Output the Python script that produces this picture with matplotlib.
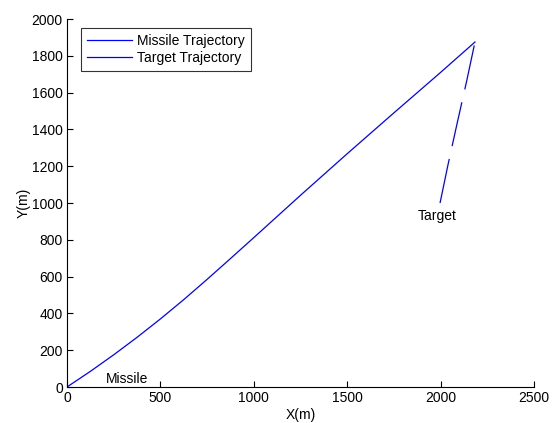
import numpy as np
import matplotlib
matplotlib.use('Agg')
import matplotlib.pyplot as plt

# values
missile_x = [0, 125, 250, 375, 500, 625, 750, 875, 1000, 1250, 1500, 1750, 2000, 2184]
missile_y = [0, 85, 175, 270, 370, 475, 585, 698, 812, 1042, 1268, 1490, 1710, 1875]

target_x = [1997, 2040, 2090, 2140, 2184]
target_y = [1000, 1210, 1440, 1665, 1875]

x_ticks = [0, 500, 1000, 1500, 2000, 2500]
y_ticks = [0, 200, 400, 600, 800, 1000, 1200, 1400, 1600, 1800, 2000]

plt.rcParams['font.family'] = ['Liberation Sans', 'DejaVu Sans']
plt.rcParams['font.size'] = 10

fig = plt.figure(figsize=(5.52, 4.23), dpi=100)
ax = fig.add_axes([0.1214, 0.0851, 0.846, 0.8699])

ax.plot(missile_x, missile_y, color='#0000ff', lw=0.9, label='Missile Trajectory')
ax.plot(target_x, target_y, color='#0000ff', lw=0.9, dashes=(36, 10.5),
        label='Target Trajectory')

ax.text(210, 45, 'Missile', ha='left', va='center', fontsize=10)
ax.text(1875, 930, 'Target', ha='left', va='center', fontsize=10)

ax.set_xlim(0, 2500)
ax.set_ylim(0, 2000)
ax.set_xticks(x_ticks)
ax.set_yticks(y_ticks)
ax.tick_params(direction='in', length=4, width=0.8, pad=3, labelsize=10)
ax.spines['top'].set_visible(False)
ax.spines['right'].set_visible(False)
for s in ['left', 'bottom']:
    ax.spines[s].set_linewidth(0.8)

ax.set_xlabel('X(m)', fontsize=10, labelpad=2)
ax.set_ylabel('Y(m)', fontsize=10, labelpad=1)

leg = ax.legend(loc='upper left', bbox_to_anchor=(0.030, 0.9755), fontsize=10,
                frameon=True, fancybox=False, edgecolor='black',
                handlelength=3.2, borderpad=0.45, labelspacing=0.2,
                handletextpad=0.35, borderaxespad=0.0)
leg.get_frame().set_linewidth(0.8)
leg.legend_handles[1].set_linestyle('-')

fig.savefig('out.png', dpi=100)
